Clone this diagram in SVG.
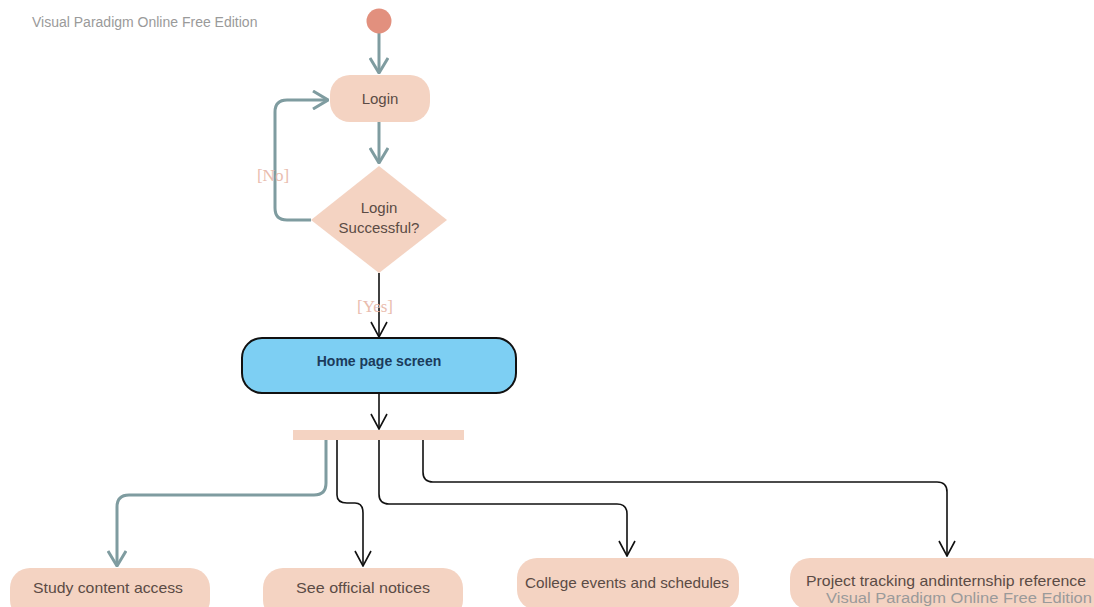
<svg xmlns="http://www.w3.org/2000/svg" width="1094" height="607" viewBox="0 0 1094 607">
<defs>
<style>
.wm{font-family:"Liberation Sans",Arial,sans-serif;fill:#9a9a9a}
.nt{font-family:"Liberation Sans",Arial,sans-serif;font-size:15px;fill:#5b4b45;text-anchor:middle}
.act{fill:#f4d3c2}
.g{fill:none;stroke:#7f9ca0;stroke-width:3}
.b{fill:none;stroke:#111;stroke-width:1.6}
.lbl{font-family:"Liberation Serif",serif;font-size:17px;fill:#e9bcae;text-anchor:middle}
</style>
<marker id="ag" viewBox="0 0 20 20" refX="19" refY="10" markerWidth="20" markerHeight="20" markerUnits="userSpaceOnUse" orient="auto">
<path d="M4,1 L19,10 L4,19" fill="none" stroke="#7f9ca0" stroke-width="3"/>
</marker>
<marker id="ab" viewBox="0 0 20 20" refX="19" refY="10" markerWidth="20" markerHeight="20" markerUnits="userSpaceOnUse" orient="auto">
<path d="M4,2 L19,10 L4,18" fill="none" stroke="#111" stroke-width="1.6"/>
</marker>
</defs>
<rect width="1094" height="607" fill="#ffffff"/>
<text class="wm" x="32" y="27" font-size="14">Visual Paradigm Online Free Edition</text>

<g id="connectors">
<path class="g" d="M379,33 L379,73" marker-end="url(#ag)"/>
<path class="g" d="M379,122 L379,163" marker-end="url(#ag)"/>
<path class="g" d="M311,220 L287,220 Q275,220 275,208 L275,112 Q275,100 287,100 L328,100" marker-end="url(#ag)"/>
<path class="b" d="M379,273 L379,337" marker-end="url(#ab)"/>
<path class="b" d="M379,393 L379,429" marker-end="url(#ab)"/>
<path class="g" d="M326,440 L326,483 Q326,495 314,495 L129,495 Q117,495 117,507 L117,566" marker-end="url(#ag)"/>
<path class="b" d="M337,440 L337,495 Q337,503 347,503 L355,503 Q363,503 363,513 L363,566" marker-end="url(#ab)"/>
<path class="b" d="M379,440 L379,494 Q379,504 389,504 L617,504 Q627,504 627,514 L627,556" marker-end="url(#ab)"/>
<path class="b" d="M423,440 L423,472 Q423,482 433,482 L937,482 Q947,482 947,492 L947,556" marker-end="url(#ab)"/>
</g>

<g id="start"><circle cx="379" cy="21" r="12.5" fill="#e2907e"/></g>

<g id="login">
<rect class="act" x="330" y="75" width="100" height="47" rx="20"/>
<text class="nt" x="380" y="104">Login</text>
</g>

<g id="decision">
<polygon class="act" points="379,166 447,220 379,273 311,220"/>
<text class="nt" x="379" y="213">Login</text>
<text class="nt" x="379" y="233">Successful?</text>
</g>
<g id="lbl-no"><text class="lbl" x="273" y="181">[No]</text></g>
<g id="lbl-yes"><text class="lbl" x="375" y="312">[Yes]</text></g>

<g id="home">
<rect x="242" y="338" width="274" height="55" rx="20" fill="#7dcff3" stroke="#111" stroke-width="2"/>
<text x="379" y="366" font-family="'Liberation Sans',Arial,sans-serif" font-size="14" font-weight="bold" fill="#1b3b5b" text-anchor="middle">Home page screen</text>
</g>

<g id="fork"><rect x="293" y="430" width="171" height="10" fill="#f4d3c2"/></g>

<g id="study">
<rect class="act" x="10" y="568" width="200" height="52" rx="20"/>
<text class="nt" x="108" y="593" textLength="150" lengthAdjust="spacingAndGlyphs">Study content access</text>
</g>
<g id="notices">
<rect class="act" x="263" y="568" width="200" height="52" rx="20"/>
<text class="nt" x="363" y="593" textLength="134" lengthAdjust="spacingAndGlyphs">See official notices</text>
</g>
<g id="events">
<rect class="act" x="517" y="558" width="222" height="52" rx="20"/>
<text class="nt" x="627" y="588" textLength="204" lengthAdjust="spacingAndGlyphs">College events and schedules</text>
</g>
<g id="project">
<rect class="act" x="790" y="558" width="320" height="52" rx="20"/>
<text class="nt" x="946" y="586" textLength="280" lengthAdjust="spacingAndGlyphs">Project tracking andinternship reference</text>
</g>
<text class="wm" x="826" y="603" font-size="14" textLength="266" lengthAdjust="spacingAndGlyphs" fill="#8a8a8a">Visual Paradigm Online Free Edition</text>
</svg>
